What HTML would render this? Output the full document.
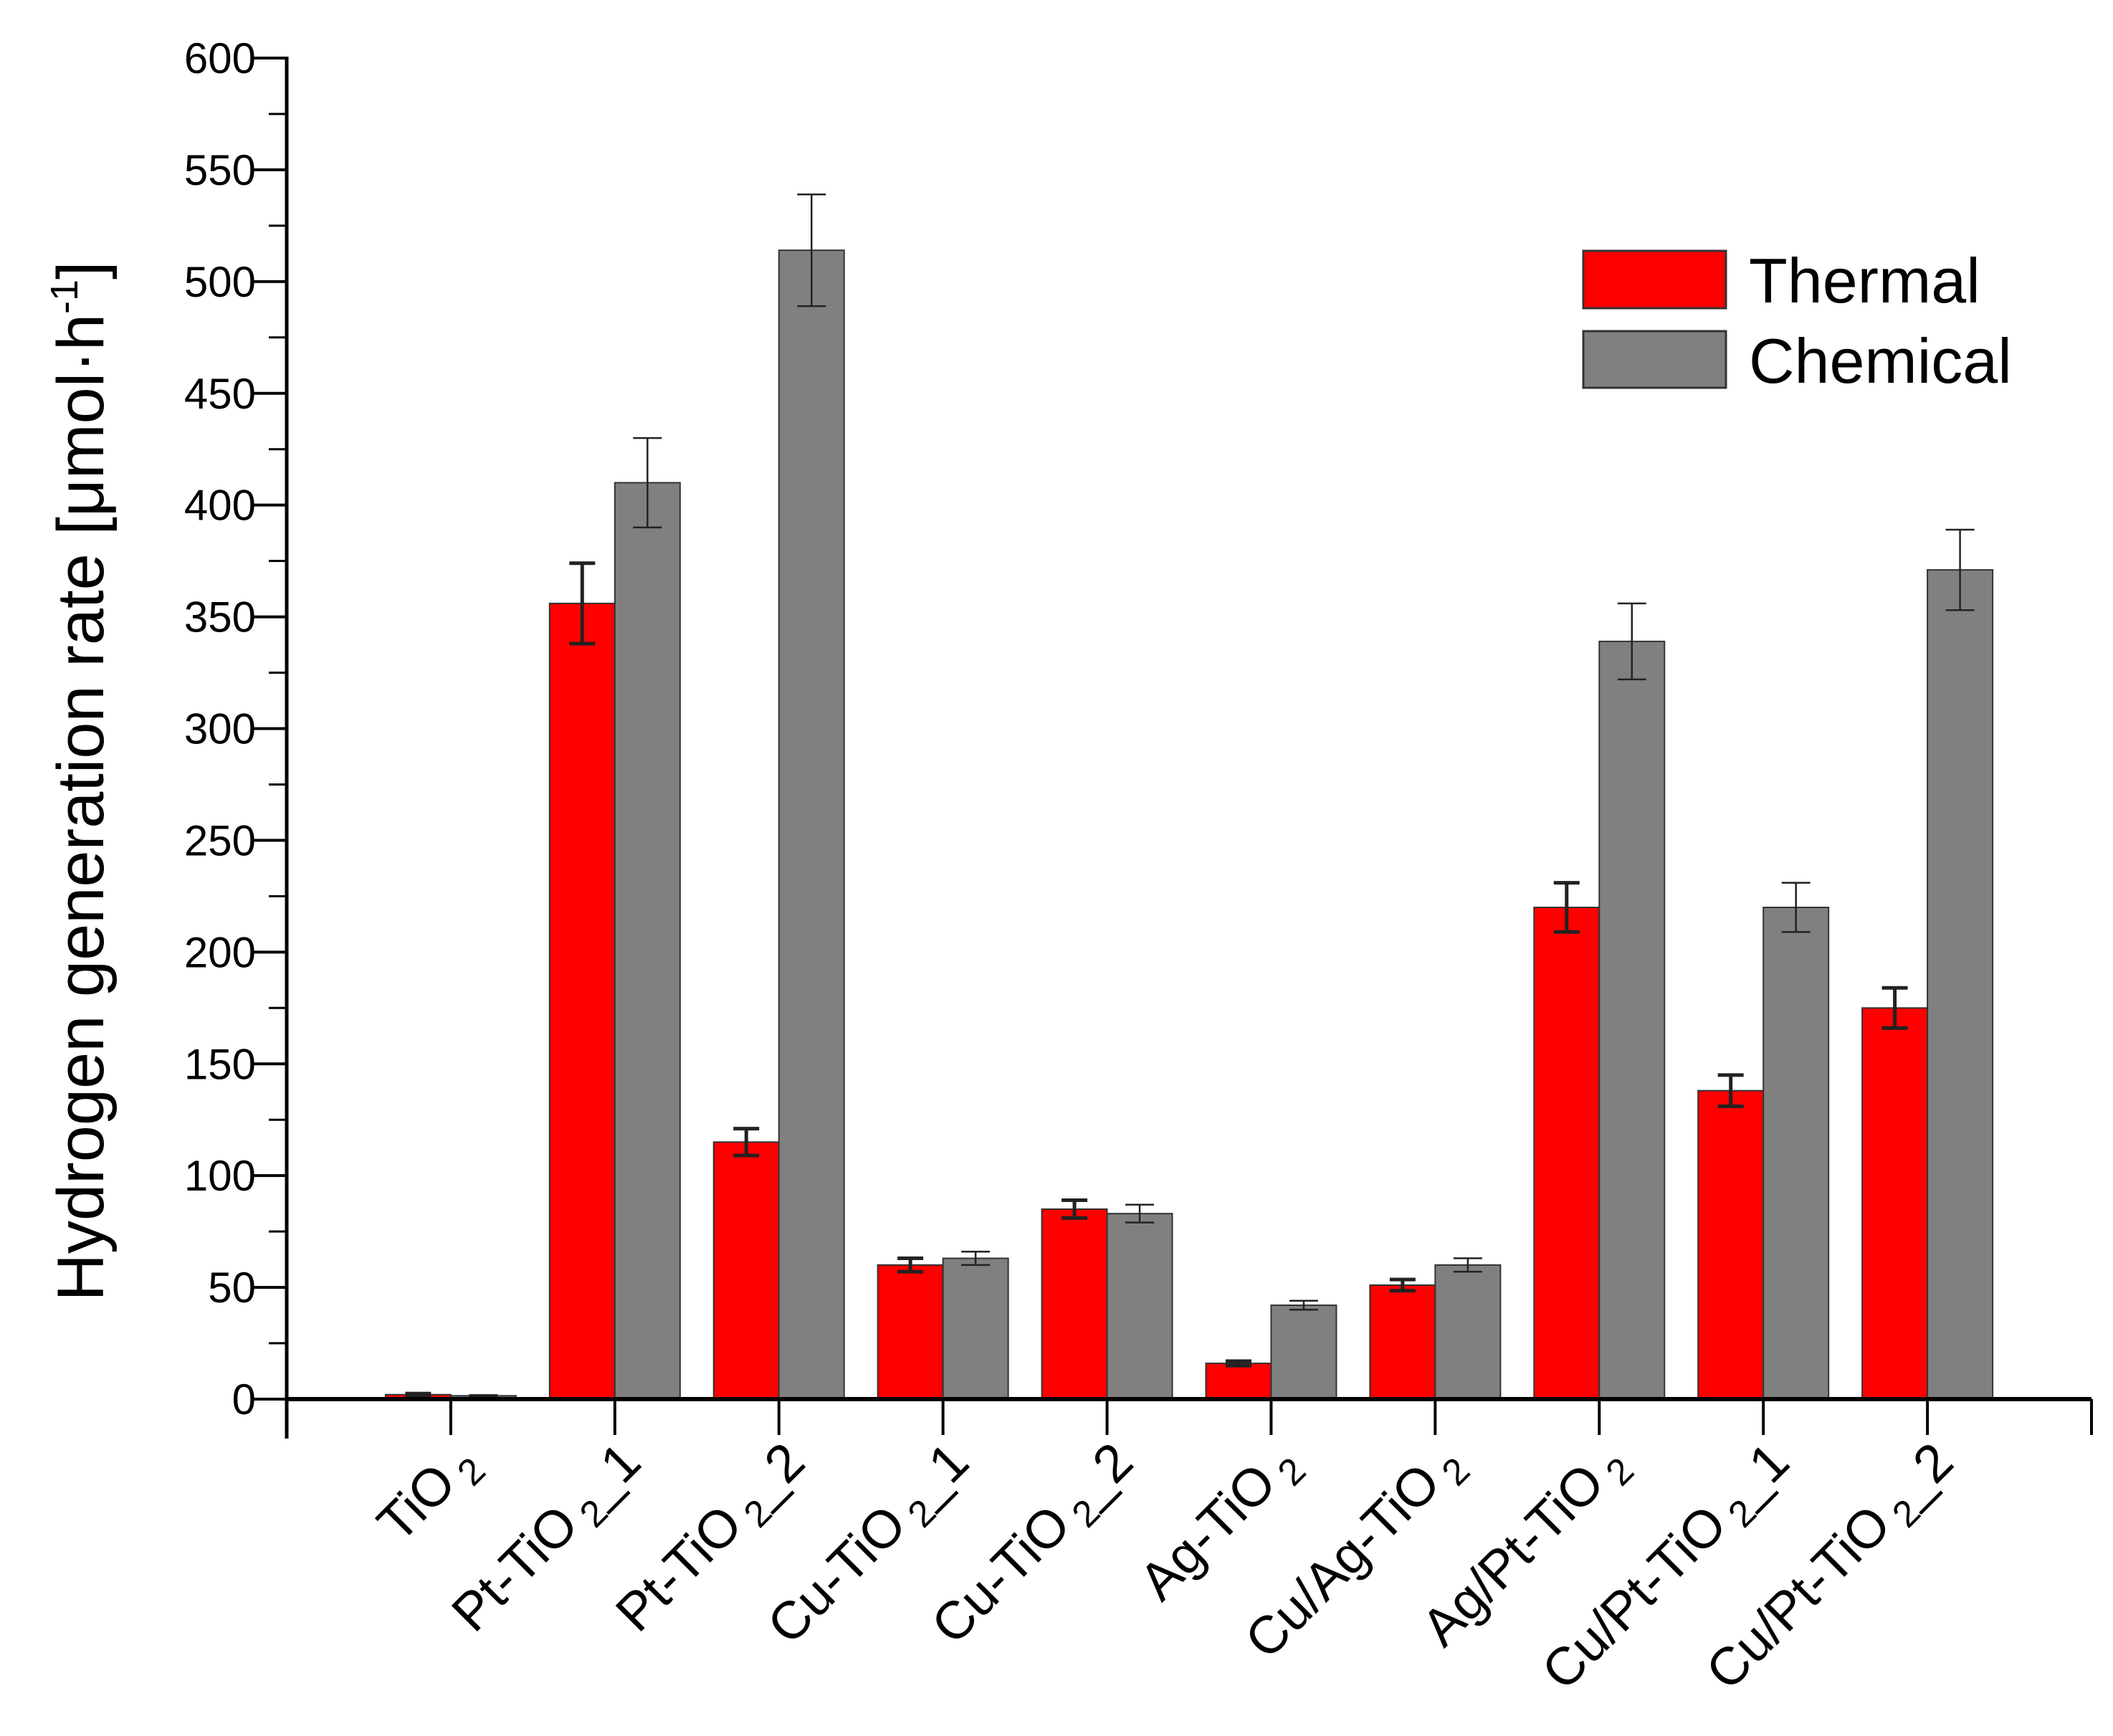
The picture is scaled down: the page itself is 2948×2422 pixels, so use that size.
<!DOCTYPE html>
<html><head><meta charset="utf-8"><style>
html,body{margin:0;padding:0;background:#fff}
svg{display:block}
text{font-family:"Liberation Sans",Arial,sans-serif;fill:#000}
</style></head><body>
<svg id="chart" width="2948" height="2422" viewBox="0 0 2948 2422" xmlns="http://www.w3.org/2000/svg">
<g id="bars"></g>
<g id="axes"></g>
<text transform="translate(144,1090) rotate(-90)" text-anchor="middle" font-size="92">Hydrogen generation rate [μmol·h<tspan dy="-36" font-size="54">-1</tspan><tspan dy="36">]</tspan></text>
<g>
<rect x="2209" y="350" width="199" height="80" fill="#ff0000" stroke="#333" stroke-width="3"/>
<text x="2440" y="422" font-size="88">Thermal</text>
<rect x="2209" y="462" width="199" height="79" fill="#808080" stroke="#333" stroke-width="3"/>
<text x="2440" y="534" font-size="88">Chemical</text>
</g>
</svg>
<script>
const categories=["TiO|2","Pt-TiO|2|_1","Pt-TiO|2|_2","Cu-TiO|2|_1","Cu-TiO|2|_2","Ag-TiO|2","Cu/Ag-TiO|2","Ag/Pt-TiO|2","Cu/Pt-TiO|2|_1","Cu/Pt-TiO|2|_2"];
const thermal=[2,356,115,60,85,16,51,220,138,175];
const thermalErr=[0.5,18,6,3,4,1,2.5,11,7,9];
const chemical=[1.5,410,514,63,83,42,60,339,220,371];
const chemicalErr=[0.3,20,25,3,4,2,3,17,11,18];
const yTicks=[0,50,100,150,200,250,300,350,400,450,500,550,600];

const NS="http://www.w3.org/2000/svg";
const X0=400,X1=2918,Y0=1952,Y600=81;
const step=(X1-X0)/11;
const xc=i=>X0+step*(i+1);
const y=v=>Y0-(v/600)*(Y0-Y600);
const BW=91;
function mk(tag,attrs,parent){const e=document.createElementNS(NS,tag);for(const k in attrs)e.setAttribute(k,attrs[k]);parent.appendChild(e);return e;}
const bars=document.getElementById('bars'),axes=document.getElementById('axes'),svg=document.getElementById('chart');

function errbar(cx,v,e,w,cap,name){
  const g=mk('g',{},bars);
  
  
  mk('line',{x1:cx,x2:cx,y1:y(v-e),y2:y(v+e),stroke:'#222','stroke-width':w},g);
  mk('line',{x1:cx-cap,x2:cx+cap,y1:y(v+e),y2:y(v+e),stroke:'#222','stroke-width':w},g);
  mk('line',{x1:cx-cap,x2:cx+cap,y1:y(v-e),y2:y(v-e),stroke:'#222','stroke-width':w},g);
}
categories.forEach((c,i)=>{
  const cx=xc(i);
  const r=mk('rect',{x:cx-BW,y:y(thermal[i]),width:BW,height:Y0-y(thermal[i]),fill:'#ff0000',stroke:'#333','stroke-width':2},bars);
  
  
  const g=mk('rect',{x:cx,y:y(chemical[i]),width:BW,height:Y0-y(chemical[i]),fill:'#808080',stroke:'#333','stroke-width':2},bars);
  
  
  errbar(cx-BW/2,thermal[i],thermalErr[i],5,18,'error-thermal-'+i);
  errbar(cx+BW/2,chemical[i],chemicalErr[i],2.5,20,'error-chemical-'+i);
});
let l=mk('line',{x1:X0,x2:X0,y1:Y600-2,y2:Y0+55,stroke:'#000','stroke-width':5},axes);


l=mk('line',{x1:X0,x2:X1,y1:Y0,y2:Y0,stroke:'#000','stroke-width':6},axes);


yTicks.forEach((t,k)=>{
  const tk=mk('line',{x1:X0-46,x2:X0,y1:y(t),y2:y(t),stroke:'#000','stroke-width':4},axes);
  
  
  const tx=mk('text',{x:357,y:y(t)+21,'text-anchor':'end','font-size':60},axes);
  tx.textContent=t;
  
  
  if(k<yTicks.length-1){
    const m=mk('line',{x1:X0-25,x2:X0,y1:y(t+25),y2:y(t+25),stroke:'#000','stroke-width':3},axes);
    
    
  }
});
for(let i=0;i<=11;i++){
  const tk=mk('line',{x1:X0+step*i,x2:X0+step*i,y1:Y0,y2:Y0+50,stroke:'#000','stroke-width':4},axes);
  
  
}
categories.forEach((c,i)=>{
  const parts=c.split('|');
  const t=mk('text',{'text-anchor':'end','font-size':74,transform:`translate(${xc(i)+40},${Y0+92}) rotate(-45)`},svg);
  
  
  const a=mk('tspan',{},t);a.textContent=parts[0];
  const b=mk('tspan',{dy:16,'font-size':52,dx:12},t);b.textContent=parts[1];
  if(parts[2]){const d=mk('tspan',{dy:-16},t);d.textContent=parts[2];}
});
</script>
</body></html>
